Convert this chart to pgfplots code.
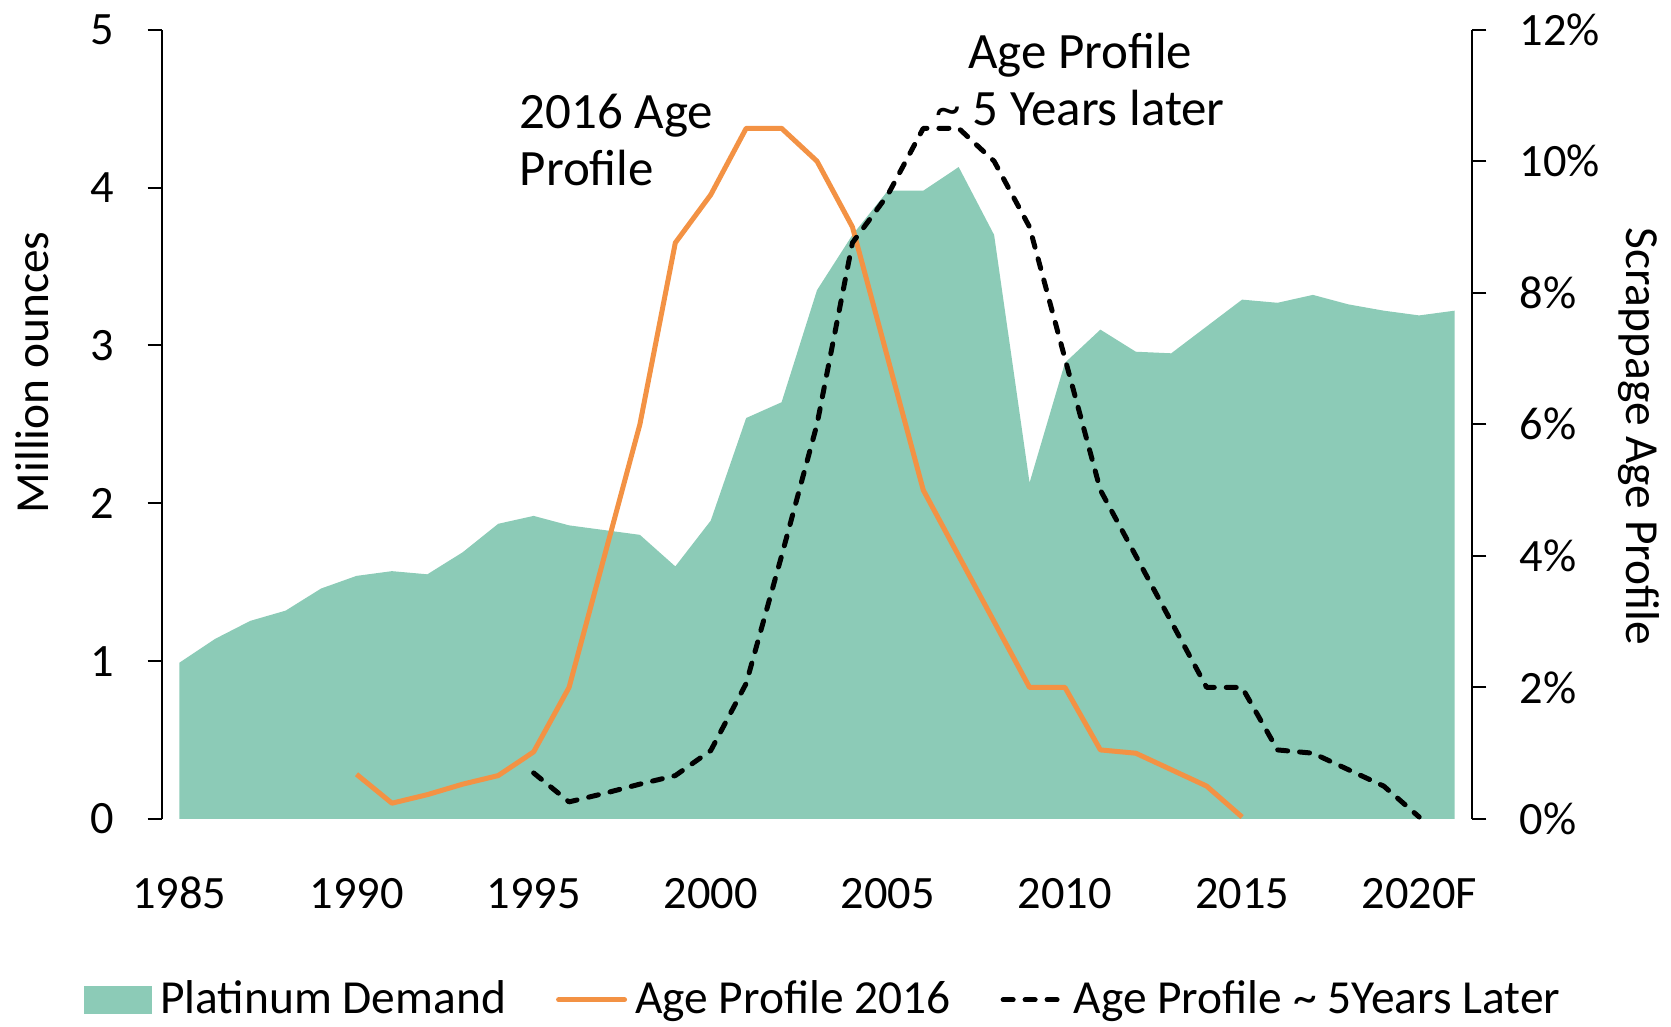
\documentclass[border=0pt]{standalone}
\usepackage{fontspec}
\setmainfont{Carlito}
\usepackage{pgfplots}
\pgfplotsset{compat=1.18}
\usetikzlibrary{calc}
\definecolor{pgreen}{HTML}{8CCBB7}
\definecolor{porange}{HTML}{F39244}

\pgfplotstableread{
year demand
1985 0.99
1986 1.14
1987 1.255
1988 1.32
1989 1.46
1990 1.54
1991 1.57
1992 1.55
1993 1.69
1994 1.87
1995 1.92
1996 1.86
1997 1.83
1998 1.80
1999 1.60
2000 1.89
2001 2.54
2002 2.64
2003 3.35
2004 3.70
2005 3.98
2006 3.98
2007 4.13
2008 3.70
2009 2.13
2010 2.89
2011 3.10
2012 2.96
2013 2.95
2014 3.12
2015 3.29
2016 3.27
2017 3.32
2018 3.26
2019 3.22
2020 3.19
2021 3.22
}\demand

\pgfplotstableread{
year pct
1990 0.68
1991 0.24
1992 0.37
1993 0.53
1994 0.66
1995 1.02
1996 2.0
1997 4.0
1998 6.0
1999 8.76
2000 9.49
2001 10.5
2002 10.5
2003 10.0
2004 9.0
2005 7.0
2006 5.0
2007 4.0
2008 3.0
2009 2.0
2010 2.0
2011 1.05
2012 1.0
2013 0.75
2014 0.5
2015 0.03
}\agesixteen

\pgfplotstableread{
year pct
1995 0.70
1996 0.26
1997 0.39
1998 0.53
1999 0.66
2000 1.04
2001 2.06
2002 4.0
2003 6.0
2004 8.76
2005 9.49
2006 10.5
2007 10.5
2008 10.0
2009 9.0
2010 7.0
2011 5.0
2012 4.0
2013 3.0
2014 2.0
2015 2.0
2016 1.05
2017 1.0
2018 0.75
2019 0.5
2020 0.03
}\agelater

\begin{document}
\begin{tikzpicture}
\pgfplotsset{
  base/.style={
    scale only axis, width=131.06mm, height=78.93mm,
    xmin=1984.5, xmax=2021.5, clip=false,
    tick align=outside, major tick length=1.4mm,
    tick style={black, line width=0.55pt},
    axis line style={black, line width=0.55pt},
    every tick label/.append style={font=\fontsize{13.2}{15}\selectfont},
  },
}
\begin{axis}[base, name=ax1,
  ymin=0, ymax=5,
  axis y line*=left, axis x line*=bottom,
  x axis line style={draw=none},
  xtick={1985,1990,1995,2000,2005,2010,2015,2020},
  xticklabels={1985,1990,1995,2000,2005,2010,2015,2020F},
  xtick style={draw=none},
  xticklabel style={anchor=base, yshift=-7.6mm},
  ytick={0,1,2,3,4,5},
  yticklabels={0,1,2,3,4,5},
  yticklabel style={anchor=east, inner sep=0pt, xshift=-3.27mm},
]
\addplot[fill=pgreen, draw=none] table[x=year, y=demand] {\demand} \closedcycle;

\node[anchor=base west, inner sep=0pt, font=\fontsize{14.5}{17}\selectfont] at (axis cs:1994.59,4.377) {2016 Age};
\node[anchor=base west, inner sep=0pt, font=\fontsize{14.5}{17}\selectfont] at (axis cs:1994.59,4.016) {Profile};
\node[anchor=base, inner sep=0pt, font=\fontsize{14.5}{17}\selectfont] at (axis cs:2010.43,4.757) {Age Profile};
\node[anchor=base, inner sep=0pt, font=\fontsize{14.5}{17}\selectfont] at (axis cs:2010.43,4.390) {\textasciitilde\ 5 Years later};

\node[rotate=90, inner sep=0pt, font=\fontsize{13.5}{16}\selectfont] at (rel axis cs:-0.099,0.566) {Million ounces};
\node[rotate=-90, inner sep=0pt, font=\fontsize{13.5}{16}\selectfont] at (rel axis cs:1.1268,0.485) {Scrappage Age Profile};
\end{axis}

\begin{axis}[base,
  ymin=0, ymax=12,
  axis x line=none, axis y line*=right,
  ytick={0,2,4,6,8,10,12},
  yticklabels={0\%,2\%,4\%,6\%,8\%,10\%,12\%},
  yticklabel style={anchor=west, inner sep=0pt, xshift=3.27mm},
  legend columns=-1,
  legend style={draw=none, fill=none, inner sep=0pt,
    at={(-0.060,-0.229)}, anchor=west,
    font=\fontsize{13.5}{16}\selectfont,
    nodes={inner sep=0pt},
    column sep=0.8mm,
    /tikz/every even column/.append style={column sep=5mm}},
]
\addlegendimage{legend image code/.code={\fill[pgreen] (0mm,-1.35mm) rectangle (6.7mm,1.35mm);}}
\addlegendentry{Platinum Demand}
\addplot[porange, line width=1.42pt, line join=round,
  legend image code/.code={\draw[porange, line width=1.42pt, line cap=round] (0.25mm,0mm) -- (6.85mm,0mm);}]
  table[x=year, y=pct] {\agesixteen};
\addlegendentry{Age Profile 2016}
\addplot[black, line width=1.42pt, line cap=round, line join=round, dash pattern=on 2.85pt off 3.4pt,
  legend image code/.code={\draw[black, line width=1.42pt, line cap=round, dash pattern=on 2.85pt off 3.4pt] (0.25mm,0mm) -- (6.25mm,0mm);}]
  table[x=year, y=pct] {\agelater};
\addlegendentry{Age Profile \textasciitilde\ 5Years Later}
\end{axis}

\pgfresetboundingbox
\path[use as bounding box] ($(ax1.south west)+(-16.17mm,-20.8mm)$) rectangle ($(ax1.north east)+(19.87mm,2.97mm)$);
\end{tikzpicture}
\end{document}
